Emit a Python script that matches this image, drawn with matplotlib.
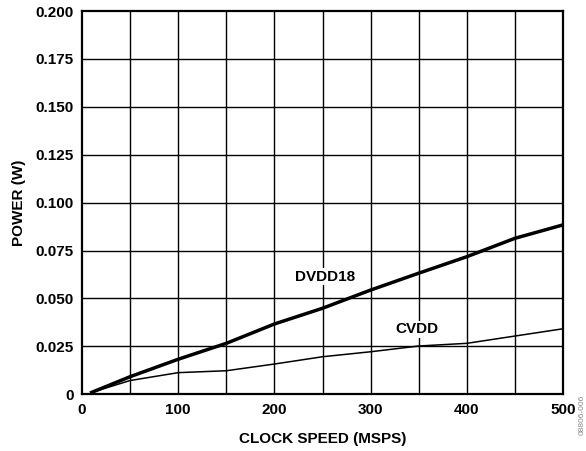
import matplotlib
matplotlib.use('Agg')
import matplotlib.pyplot as plt

plt.rcParams['font.family'] = ['Liberation Sans', 'DejaVu Sans']
plt.rcParams['font.weight'] = 'bold'

# clock speed (MSPS)
clock = [10, 50, 100, 150, 200, 250, 300, 350, 400, 450, 500]
# power (W)
dvdd18 = [0.001, 0.0092, 0.0183, 0.0266, 0.0367, 0.0449, 0.0544, 0.0632, 0.0718, 0.0814, 0.0884]
cvdd = [0.001, 0.0072, 0.0113, 0.0123, 0.0158, 0.0196, 0.0222, 0.0252, 0.0266, 0.0304, 0.0342]

x_ticks = [0, 100, 200, 300, 400, 500]
x_grid = [50, 100, 150, 200, 250, 300, 350, 400, 450]
y_ticks = [0, 0.025, 0.050, 0.075, 0.100, 0.125, 0.150, 0.175, 0.200]
y_labels = ['0', '0.025', '0.050', '0.075', '0.100', '0.125', '0.150', '0.175', '0.200']

fig = plt.figure(figsize=(5.86, 4.51), dpi=100)
ax = fig.add_axes([0.14, 0.1257, 0.8208, 0.8499])

for xv in x_grid:
    ax.axvline(xv, color='black', lw=1.0, zorder=1)
for yv in y_ticks[1:-1]:
    ax.axhline(yv, color='black', lw=1.0, zorder=1)

ax.plot(clock, dvdd18, color='black', lw=2.5, zorder=3)
ax.plot(clock, cvdd, color='black', lw=1.1, zorder=3)

ax.text(253, 0.0614, 'DVDD18', ha='center', va='center', fontsize=11,
        fontweight='bold', zorder=4,
        bbox=dict(facecolor='white', edgecolor='none', pad=1))
ax.text(348, 0.0339, 'CVDD', ha='center', va='center', fontsize=11,
        fontweight='bold', zorder=4,
        bbox=dict(facecolor='white', edgecolor='none', pad=1))

ax.set_xlim(0, 500)
ax.set_ylim(0, 0.2)
ax.set_xticks(x_ticks)
ax.set_yticks(y_ticks)
ax.set_yticklabels(y_labels)
ax.tick_params(length=0, labelsize=11, pad=6)
for lbl in ax.get_xticklabels() + ax.get_yticklabels():
    lbl.set_fontweight('bold')
for s in ax.spines.values():
    s.set_linewidth(1.6)

ax.set_xlabel('CLOCK SPEED (MSPS)', fontsize=11, fontweight='bold', labelpad=11)
ax.set_ylabel('POWER (W)', fontsize=11, fontweight='bold', labelpad=7)

fig.text(0.993, 0.08, '08806-006', rotation=90, fontsize=6, color='#888888',
         ha='center', va='center', fontweight='normal')

fig.savefig('out.png', dpi=100)
